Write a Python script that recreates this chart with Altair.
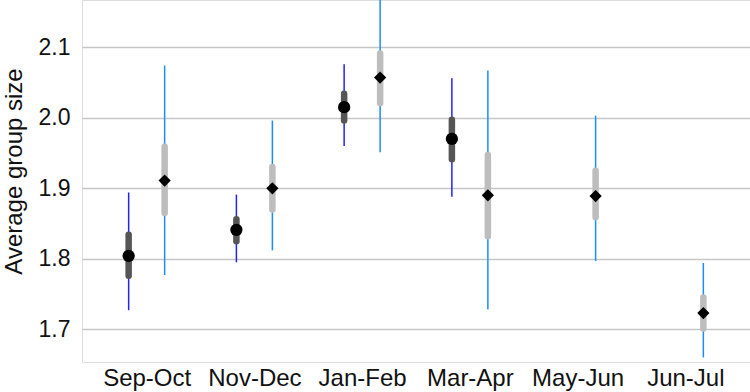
import json
import altair as alt
import pandas as pd

categories = ["Sep-Oct", "Nov-Dec", "Jan-Feb", "Mar-Apr", "May-Jun", "Jun-Jul"]

# Series A (circles)
a_mean = [1.804, 1.841, 2.015, 1.970, None, None]
a_in_lo = [1.776, 1.825, 1.996, 1.941, None, None]
a_in_hi = [1.834, 1.856, 2.034, 1.997, None, None]
a_out_lo = [1.727, 1.795, 1.960, 1.888, None, None]
a_out_hi = [1.894, 1.891, 2.076, 2.056, None, None]

# Series B (diamonds)
b_mean = [1.911, 1.900, 2.057, 1.890, 1.889, 1.723]
b_in_lo = [1.865, 1.870, 2.021, 1.832, 1.859, 1.701]
b_in_hi = [1.959, 1.930, 2.091, 1.947, 1.925, 1.745]
b_out_lo = [1.777, 1.812, 1.951, 1.728, 1.797, 1.660]
b_out_hi = [2.074, 1.996, 2.200, 2.067, 2.003, 1.794]

dodge = 0.167
rows = []
for i, c in enumerate(categories):
    for s, m, il, ih, ol, oh, off in [
        ("A", a_mean, a_in_lo, a_in_hi, a_out_lo, a_out_hi, -dodge),
        ("B", b_mean, b_in_lo, b_in_hi, b_out_lo, b_out_hi, dodge),
    ]:
        if m[i] is None:
            continue
        rows.append(dict(cat=c, series=s, pos=i + 1 + off, mean=m[i],
                         in_lo=il[i], in_hi=ih[i], out_lo=ol[i], out_hi=oh[i]))
df = pd.DataFrame(rows)

ydom = [1.6536, 2.167]
label_expr = json.dumps(categories) + "[datum.value - 1]"

x = alt.X("pos:Q",
          scale=alt.Scale(domain=[0.4, 6.6], nice=False, zero=False),
          axis=alt.Axis(values=[1, 2, 3, 4, 5, 6], labelExpr=label_expr, title=None,
                        grid=False, domain=False, ticks=False, labelPadding=4,
                        labelFontSize=24, labelColor="#111111", labelFont="Liberation Sans"))
y_axis = alt.Axis(values=[1.7, 1.8, 1.9, 2.0, 2.1], format=".1f", title="Average group size",
                  grid=True, gridColor="#C6C6C6", gridWidth=1.5, domain=False, ticks=False,
                  labelPadding=12, labelFontSize=23, labelColor="#111111",
                  labelFont="Liberation Sans", titleFont="Liberation Sans",
                  titleFontSize=24, titleFontWeight="normal", titleColor="#111111",
                  titleX=-56, titleY=171, titleBaseline="bottom")
yscale = alt.Scale(domain=ydom, nice=False, zero=False)

color_thin = alt.Color("series:N", scale=alt.Scale(domain=["A", "B"], range=["#2222F5", "#1C8CF8"]), legend=None)
color_thick = alt.Color("series:N", scale=alt.Scale(domain=["A", "B"], range=["#555555", "#BDBDBD"]), legend=None)

base = alt.Chart(df)

thin = base.mark_rule(strokeWidth=1.5, clip=True).encode(
    x=x, y=alt.Y("out_lo:Q", scale=yscale, axis=y_axis), y2="out_hi:Q",
    color=color_thin)

thick = base.mark_rule(strokeWidth=6.5, strokeCap="round", clip=True).encode(
    x=x, y=alt.Y("in_lo:Q", scale=yscale), y2="in_hi:Q",
    color=color_thick)

pts = base.mark_point(filled=True, opacity=1, color="black", clip=True).encode(
    x=x, y=alt.Y("mean:Q", scale=yscale),
    shape=alt.Shape("series:N", scale=alt.Scale(domain=["A", "B"], range=["circle", "diamond"]), legend=None),
    size=alt.Size("series:N", scale=alt.Scale(domain=["A", "B"], range=[150, 150]), legend=None))

chart = alt.layer(thin, thick, pts).resolve_scale(color="independent").properties(
    width=668, height=362,
    autosize=alt.AutoSizeParams(type="none"),
    padding={"left": 82, "top": 0, "right": 0, "bottom": 30},
).configure_view(stroke=None).configure(background="white")

chart.save("out.html", embed_options={"renderer": "svg", "actions": False})
